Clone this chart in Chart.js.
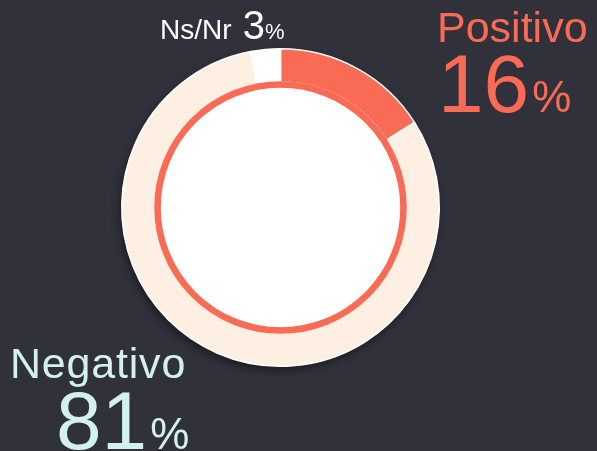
<!DOCTYPE html>
<html lang="es">
<head>
    <meta charset="UTF-8">
    <title>Positivo / Negativo</title>
    <script src="https://cdn.jsdelivr.net/npm/chart.js"></script>
    <style>
        html, body {
            margin: 0;
            padding: 0;
            background: #30313a;
            overflow: hidden;
        }
        .wrap {
            position: relative;
            width: 597px;
            height: 451px;
        }
        .lbl {
            position: absolute;
            font-family: 'Liberation Sans', Arial, sans-serif;
            line-height: 1;
            white-space: nowrap;
        }
        .lbl span { line-height: 1; }
    </style>
</head>
<body>
<div class="wrap">
    <canvas id="dona"></canvas>
    <div id="labels"></div>
</div>

<script>
    // datos
    const categorias = ['Positivo', 'Negativo', 'Ns/Nr'];
    const valores = [16, 81, 3];
    const colores = ['#f96b55', '#fdf0e2', '#ffffff'];
    const coloresTexto = ['#f96b55', '#d3f0f2', '#ffffff'];

    const coral = '#f96b55';

    // sombra + disco blanco bajo el anillo
    const discoPlugin = {
        id: 'disco',
        beforeDatasetsDraw(chart) {
            const arc = chart.getDatasetMeta(0).data[0];
            if (!arc) return;
            const ctx = chart.ctx;
            ctx.save();
            ctx.shadowColor = 'rgba(0,0,0,0.45)';
            ctx.shadowBlur = 10;
            ctx.shadowOffsetX = -2;
            ctx.shadowOffsetY = 4;
            ctx.beginPath();
            ctx.arc(arc.x, arc.y, arc.outerRadius, 0, Math.PI * 2);
            ctx.fillStyle = '#ffffff';
            ctx.fill();
            ctx.restore();
        }
    };

    new Chart(document.getElementById('dona'), {
        type: 'doughnut',
        data: {
            labels: categorias,
            datasets: [{
                data: valores,
                backgroundColor: colores,
                borderColor: '#ffffff',
                borderWidth: 1.5,
                weight: 33
            }, {
                // anillo interior coral, dibujado encima para tapar el borde blanco
                data: [1],
                backgroundColor: [coral],
                borderColor: coral,
                borderWidth: 1.5,
                weight: 5,
                order: -1
            }]
        },
        options: {
            responsive: true,
            maintainAspectRatio: false,
            animation: false,
            cutout: '75.9%',
            layout: { padding: { left: 121, right: 157, top: 48, bottom: 84 } },
            plugins: {
                legend: { display: false },
                tooltip: { enabled: false }
            }
        },
        plugins: [discoPlugin]
    });

    // etiquetas (texto real)
    const posiciones = [
        { nombre: { left: 437, top: 5.6, size: 43, ls: 0 }, num: { left: 438, top: 42.6, size: 82, pct: 44 } },
        { nombre: { left: 10, top: 341.6, size: 43, ls: 0.8 }, num: { left: 56, top: 379.6, size: 82, pct: 44 } }
    ];
    const cont = document.getElementById('labels');
    posiciones.forEach((p, i) => {
        const a = document.createElement('div');
        a.className = 'lbl';
        a.style.cssText = `left:${p.nombre.left}px;top:${p.nombre.top}px;font-size:${p.nombre.size}px;letter-spacing:${p.nombre.ls}px;color:${coloresTexto[i]}`;
        a.textContent = categorias[i];
        cont.appendChild(a);
        const b = document.createElement('div');
        b.className = 'lbl';
        b.style.cssText = `left:${p.num.left}px;top:${p.num.top}px;font-size:${p.num.size}px;color:${coloresTexto[i]}`;
        b.innerHTML = `${valores[i]}<span style="font-size:${p.num.pct}px;margin-left:3px">%</span>`;
        cont.appendChild(b);
    });
    // Ns/Nr en una sola linea
    const c = document.createElement('div');
    c.className = 'lbl';
    c.style.cssText = `left:160px;top:5px;font-size:40px;color:${coloresTexto[2]}`;
    c.innerHTML = `<span style="font-size:28px">${categorias[2]}</span> ${valores[2]}<span style="font-size:22px">%</span>`;
    cont.appendChild(c);
</script>
</body>
</html>
